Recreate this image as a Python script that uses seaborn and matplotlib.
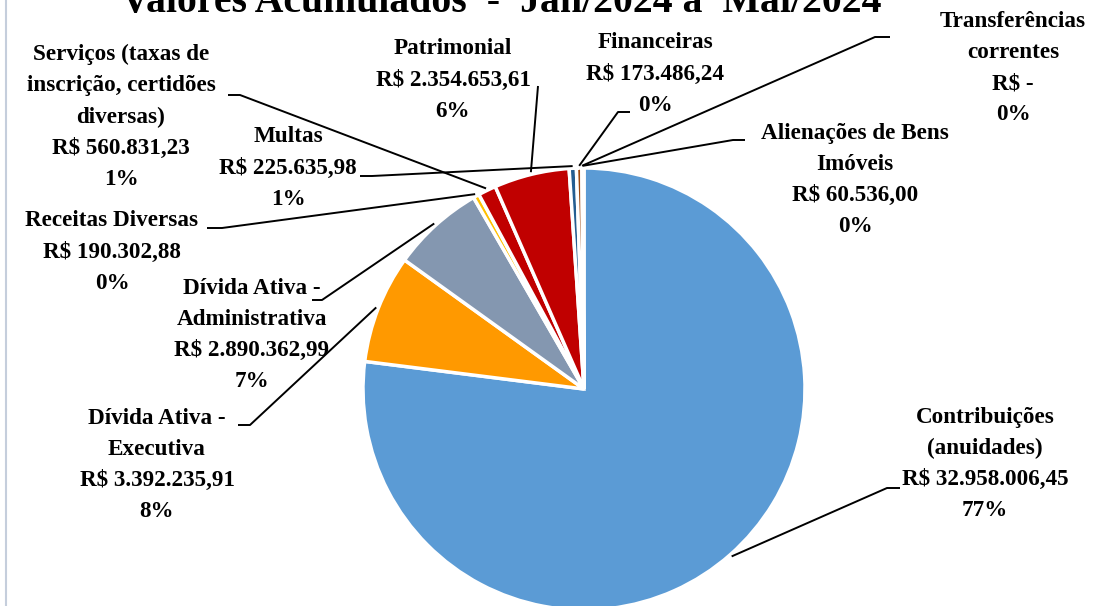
import numpy as np
import matplotlib.pyplot as plt
import seaborn as sns

# receitas acumuladas jan-mai/2024
categorias = [
    'Contribuições\n(anuidades)',
    'Dívida Ativa -\nExecutiva',
    'Dívida Ativa -\nAdministrativa',
    'Receitas Diversas',
    'Serviços (taxas de\ninscrição, certidões\ndiversas)',
    'Patrimonial',
    'Multas',
    'Financeiras',
    'Transferências\ncorrentes',
    'Alienações de Bens\nImóveis',
]
valores = [32958006.45, 3392235.91, 2890362.99, 190302.88, 560831.23,
           2354653.61, 225635.98, 173486.24, 0.0, 60536.00]
cores = ['#5B9BD5', '#FF9900', '#8497B0', '#FFC000', '#C00000',
         '#C00000', '#255E91', '#9E480E', '#636363', '#997300']

titulo = 'Valores Acumulados  -  Jan/2024 a  Mai/2024'

# posicao dos rotulos (px) e pontos da linha guia (inicio, cotovelo)
pos_rotulo = [(985, 464), (157, 465), (252, 335), (112, 252), (121, 117),
              (453, 80), (288, 168), (655, 74), (1013, 68), (855, 180)]
guia = [((900, 488), (887, 488)), ((238, 425), (250, 425)),
        ((312, 300), (322, 300)), ((207, 228), (222, 228)),
        ((228, 95), (240, 95)), ((538, 86), (538, 86)),
        ((360, 176), (372, 176)), ((630, 112), (618, 112)),
        ((890, 37), (875, 37)), ((745, 140), (733, 140))]

W, H = 1100, 606
centro = (584, H - 389)
raio = 221


def fy(y):
    return H - y


def moeda(v):
    if v == 0:
        return 'R$ -'
    s = f'{v:,.2f}'.replace(',', '#').replace('.', ',').replace('#', '.')
    return 'R$ ' + s


sns.set_theme(style='white')
plt.rcParams['font.family'] = ['Liberation Serif', 'DejaVu Serif']

fig = plt.figure(figsize=(11, 6.06), dpi=100)
ax = fig.add_axes([0, 0, 1, 1])

wedges, _ = ax.pie(valores, colors=cores, startangle=90, counterclock=False,
                   center=centro, radius=raio,
                   wedgeprops=dict(edgecolor='white', linewidth=2.5))
ax.set_xlim(0, W)
ax.set_ylim(0, H)
ax.axis('off')

total = sum(valores)
for i, w in enumerate(wedges):
    pct = round(valores[i] / total * 100)
    txt = f'{categorias[i]}\n{moeda(valores[i])}\n{pct}%'
    x, y = pos_rotulo[i]
    ax.text(x, fy(y), txt, ha='center', va='center', fontsize=16.7,
            fontweight='bold', linespacing=1.63, color='black')

    ang = np.deg2rad((w.theta1 + w.theta2) / 2)
    px = centro[0] + raio * 1.01 * np.cos(ang)
    py = centro[1] + raio * 1.01 * np.sin(ang)
    (x0, y0), (x1, y1) = guia[i]
    ax.plot([x0, x1, px], [fy(y0), fy(y1), py], color='black', lw=1.4,
            solid_capstyle='butt')

ax.text(501, fy(12), titulo, ha='center', va='baseline', fontsize=28.6,
        fontweight='bold', color='black')

# borda esquerda do quadro
ax.plot([6, 6], [0, H], color='#C5CEDC', lw=1.5)

fig.savefig('out.png', dpi=100)
